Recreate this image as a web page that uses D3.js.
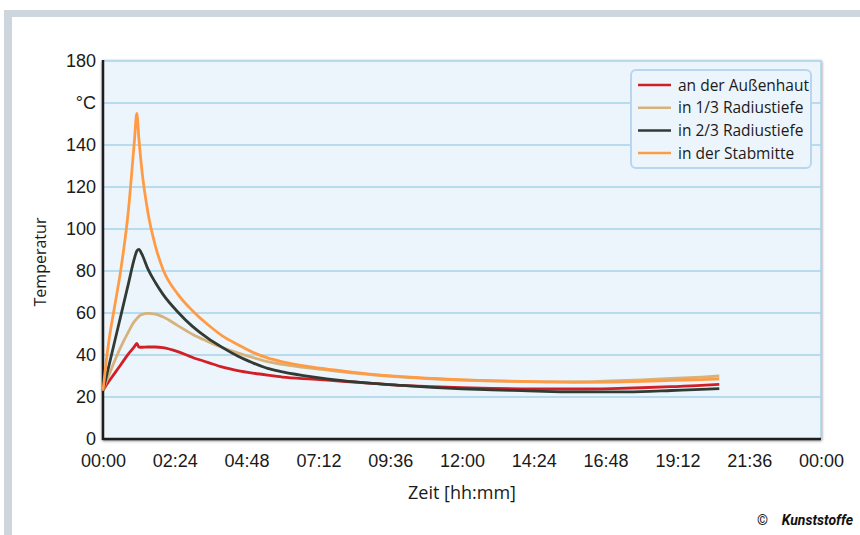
<!DOCTYPE html>
<html>

<head>
    <meta charset="utf-8">
    <title>Temperaturverlauf</title>
    <script src="https://d3js.org/d3.v7.min.js"></script>
    <style>
        body {
            margin: 0;
            background: #fff;
        }

        svg {
            display: block;
            font-family: "Open Sans", "Noto Sans", sans-serif;
        }

        .tick text {
            font-size: 18px;
            fill: #1a1a1a;
        }

        .legend-label {
            font-size: 15.5px;
            fill: #1a1a1a;
        }

        .axis-title {
            font-size: 18px;
            fill: #1a1a1a;
        }
    </style>
</head>

<body>
    <div id="chart"></div>

    <script>
        // Zeit in Stunden
        const times = [0, 0.1, 0.2, 0.4, 0.6, 0.85, 1.05, 1.13, 1.2, 1.3, 1.5, 1.75, 2.0, 2.5, 3.0, 3.5, 4.0, 4.5,
            5.0, 5.5, 6, 7, 8, 9, 10, 11, 12, 13, 14, 15, 16, 17, 18, 19, 20, 20.6];

        const aussenhaut = [23, 25.5, 27.5, 31.5, 35.5, 40.5, 44, 45.5, 43.8, 43.7, 43.8, 43.8, 43.5, 41.6, 38.8, 36.5, 34.2, 32.6,
            31.4, 30.4, 29.5, 28.5, 27.5, 26.5, 25.5, 24.9, 24.4, 24.1, 23.9, 23.8, 23.8, 24, 24.4, 24.9, 25.5, 26];

        const radius13 = [23, 27, 30.5, 37.5, 44, 51, 56, 57.3, 58.4, 59.3, 59.8, 59.5, 58.2, 54, 49.8, 46.5, 43.5, 41,
            38.8, 36.8, 35.5, 33.6, 32, 30.6, 29.5, 28.7, 28.1, 27.6, 27.3, 27.2, 27.3, 27.7, 28.2, 28.8, 29.5, 30];

        const radius23 = [23, 29, 35, 47, 59, 74, 86, 89.5, 90.3, 88, 81, 74.5, 69, 60.5, 53.5, 48, 43.5, 39.5,
            36.3, 33.6, 32, 29.6, 27.8, 26.5, 25.5, 24.6, 23.9, 23.4, 23, 22.6, 22.4, 22.4, 22.6, 23.1, 23.6, 24];

        const stabmitte = [23, 36, 47, 64, 81, 109, 142, 155, 143, 128, 108, 92, 81, 69, 61, 54.5, 49, 45,
            41.3, 38.6, 36.7, 34.2, 32.4, 30.8, 29.7, 28.8, 28.2, 27.8, 27.4, 27.2, 27.0, 27.1, 27.4, 27.9, 28.3, 28.6];

        const seriesNames = ["an der Außenhaut", "in 1/3 Radiustiefe", "in 2/3 Radiustiefe", "in der Stabmitte"];
        const seriesColors = ["#d21f26", "#d6b27c", "#323b33", "#ff9b45"];
        const seriesValues = [aussenhaut, radius13, radius23, stabmitte];

        const xTicks = [0, 2.4, 4.8, 7.2, 9.6, 12, 14.4, 16.8, 19.2, 21.6, 24];
        const yTicks = [0, 20, 40, 60, 80, 100, 120, 140, 160, 180];

        const W = 860, H = 535;
        const margin = { top: 61, right: 39, bottom: 96, left: 103 };
        const width = W - margin.left - margin.right;
        const height = H - margin.top - margin.bottom;

        const svg = d3.select("#chart")
            .append("svg")
            .attr("width", W)
            .attr("height", H);

        // Rahmen
        svg.append("rect").attr("x", 4).attr("y", 10).attr("width", W - 4).attr("height", 7).attr("fill", "#cdd5dd");
        svg.append("rect").attr("x", 4).attr("y", 10).attr("width", 8).attr("height", H - 10).attr("fill", "#cdd5dd");

        const defs = svg.append("defs");
        const shadow = defs.append("filter").attr("id", "shadow")
            .attr("x", "-5%").attr("y", "-5%").attr("width", "110%").attr("height", "110%");
        shadow.append("feDropShadow")
            .attr("dx", 0).attr("dy", 1).attr("stdDeviation", 1.6)
            .attr("flood-color", "#000").attr("flood-opacity", 0.55);

        const g = svg.append("g")
            .attr("transform", `translate(${margin.left},${margin.top})`);

        const x = d3.scaleLinear().domain([0, 24]).range([0, width]);
        const y = d3.scaleLinear().domain([0, 180]).range([height, 0]);

        g.append("rect")
            .attr("width", width)
            .attr("height", height)
            .attr("fill", "#edf5fc")
            .attr("stroke", "#a9d2ea")
            .attr("stroke-width", 1.5)
            .attr("filter", "url(#shadow)");

        // Gitterlinien
        g.append("g")
            .selectAll("line")
            .data(yTicks.filter(d => d > 0 && d < 180))
            .join("line")
            .attr("x1", 0)
            .attr("x2", width)
            .attr("y1", d => y(d))
            .attr("y2", d => y(d))
            .attr("stroke", "#a5d3e8")
            .attr("stroke-width", 1.5);

        const fmt = h => {
            const m = Math.round(h * 60) % (24 * 60);
            return String(Math.floor(m / 60)).padStart(2, "0") + ":" + String(m % 60).padStart(2, "0");
        };

        const xAxis = g.append("g")
            .attr("transform", `translate(0,${height})`)
            .call(d3.axisBottom(x).tickValues(xTicks).tickFormat(fmt).tickSize(0).tickPadding(15));
        xAxis.select(".domain").remove();

        const yAxis = g.append("g")
            .call(d3.axisLeft(y).tickValues(yTicks).tickFormat(d => d === 160 ? "°C" : d).tickSize(0).tickPadding(7));
        yAxis.select(".domain").remove();
        yAxis.selectAll(".tick text").attr("dy", "0.3em");

        // Achsenlinien
        g.append("line").attr("x1", 0).attr("x2", 0).attr("y1", -1).attr("y2", height + 1)
            .attr("stroke", "#1e1e1e").attr("stroke-width", 2.5);
        g.append("line").attr("x1", 0).attr("x2", width).attr("y1", height).attr("y2", height)
            .attr("stroke", "#1e1e1e").attr("stroke-width", 2.5);

        // Kurven
        const line = d3.line()
            .x((d, i) => x(times[i]))
            .y(d => y(d))
            .curve(d3.curveMonotoneX);

        seriesValues.forEach((vals, i) => {
            g.append("path")
                .datum(vals)
                .attr("fill", "none")
                .attr("stroke", seriesColors[i])
                .attr("stroke-width", 2.8)
                .attr("stroke-linejoin", "round")
                .attr("d", line);
        });

        // Legende
        const legend = svg.append("g").attr("transform", "translate(631,70)");
        legend.append("rect")
            .attr("width", 180)
            .attr("height", 98)
            .attr("rx", 5)
            .attr("fill", "#edf5fc")
            .attr("stroke", "#b9d5ef")
            .attr("stroke-width", 2);

        seriesNames.forEach((name, i) => {
            const ry = 15 + i * 22.7;
            legend.append("line")
                .attr("x1", 7).attr("x2", 40)
                .attr("y1", ry).attr("y2", ry)
                .attr("stroke", seriesColors[i])
                .attr("stroke-width", 2.5);
            legend.append("text")
                .attr("class", "legend-label")
                .attr("x", 47)
                .attr("y", ry + 5.5)
                .text(name);
        });

        // Achsentitel
        svg.append("text")
            .attr("class", "axis-title")
            .attr("text-anchor", "middle")
            .attr("x", margin.left + x(12))
            .attr("y", 499)
            .text("Zeit [hh:mm]");

        svg.append("text")
            .attr("class", "axis-title")
            .attr("text-anchor", "middle")
            .attr("transform", "translate(46,262) rotate(-90)")
            .style("font-size", "16px")
            .text("Temperatur");

        // Quelle
        svg.append("text")
            .attr("x", 757)
            .attr("y", 525)
            .style("font-family", "Roboto, sans-serif")
            .style("font-size", "14px")
            .attr("fill", "#111")
            .text("©");
        svg.append("text")
            .attr("x", 853)
            .attr("y", 525)
            .attr("text-anchor", "end")
            .style("font-family", "Roboto, sans-serif")
            .style("font-size", "14px")
            .style("font-weight", "bold")
            .style("font-style", "italic")
            .attr("fill", "#111")
            .text("Kunststoffe");
    </script>
</body>

</html>
